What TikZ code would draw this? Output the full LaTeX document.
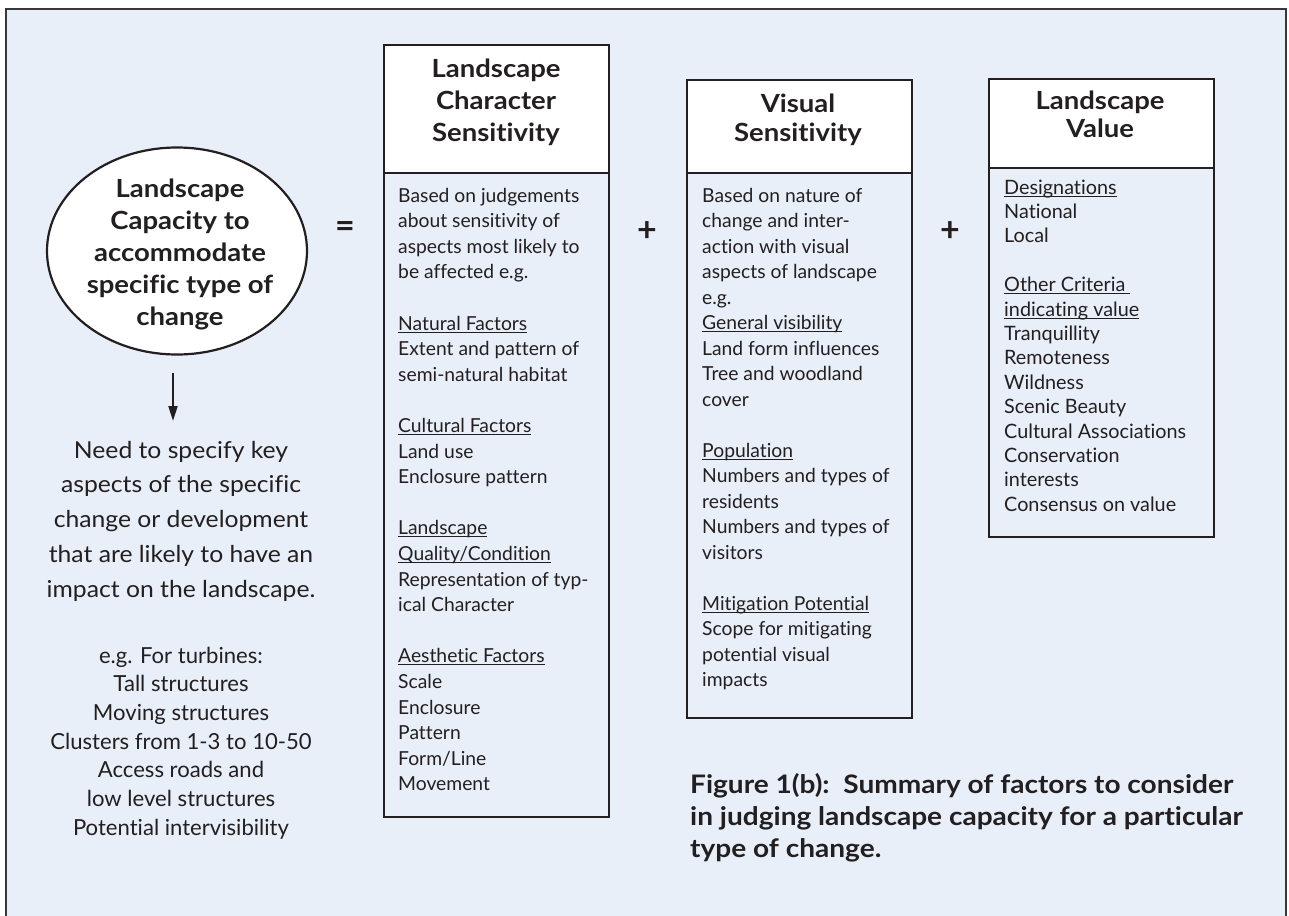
\documentclass[tikz,border=0pt]{standalone}
\usepackage{fontspec}
\setmainfont{Lato}[Ligatures=NoCommon]
\newfontfamily\widebf{Lato}[Ligatures=NoCommon, FakeStretch=1.1]
\newfontfamily\wideR{Lato}[Ligatures=NoCommon, FakeStretch=1.06]
\usetikzlibrary{arrows.meta,shapes.geometric}
\definecolor{bg}{RGB}{232,239,249}
\definecolor{ink}{RGB}{35,31,32}
\definecolor{frame}{RGB}{55,55,60}
\newcommand{\myul}[1]{\leavevmode\setbox0\hbox{#1}\rlap{\rule[-2.6pt]{\wd0}{1.1pt}}\box0}
\newcommand{\gapA}{\\[25.6pt]}
\newcommand{\gapB}{\\[24.4pt]}
\tikzset{
  colbox/.style={draw=ink, line width=2.4pt, anchor=north west, inner sep=0pt},
  hdr/.style={colbox, fill=white},
  bodybox/.style={colbox, fill=bg},
  bodytxt/.style={anchor=base west, inner sep=0pt, text=ink, font=\fontsize{19.3}{25.6}\selectfont},
  title/.style={anchor=base, inner sep=0pt, text=ink, font=\widebf\bfseries\fontsize{25}{30}\selectfont},
  sym/.style={inner sep=0pt, text=ink, font=\bfseries\fontsize{34}{34}\selectfont},
}
\begin{document}
\begin{tikzpicture}[x=1pt,y=-1pt]
\useasboundingbox (0,0) rectangle (1289,915);
% outer frame
\fill[bg] (6,9) rectangle (1286,918);
\draw[frame, line width=2.6pt] (6,920) -- (6,9) -- (1286,9) -- (1286,920);

% ellipse
\node[draw=ink, fill=white, ellipse, line width=2.2pt, minimum width=260pt, minimum height=207pt, inner sep=0pt] (ell) at (177,251) {};
\node[title] (elltxt) at (180,197) {\parbox[t]{300pt}{\centering\baselineskip=32pt Landscape\\Capacity to\\accommodate\\specific type of\\change}};

% arrow and left text
\node[anchor=base, inner sep=0pt, text=ink, font=\wideR\fontsize{23.3}{34.75}\selectfont] (need) at (181,458) {\parbox[t]{340pt}{\centering\baselineskip=34.75pt Need to specify key\\aspects of the specific\\change or development\\that are likely to have an\\impact on the landscape.}};
\draw[ink, line width=2pt, -{Triangle[length=15pt,width=9pt]}, shorten <=17pt, shorten >=2pt] (ell.south -| 173,0) -- (173,423) coordinate (arrowtip);
\node[anchor=base, inner sep=0pt, text=ink, font=\fontsize{22.1}{28.7}\selectfont] (turb) at (181,663) {\parbox[t]{340pt}{\centering\baselineskip=28.7pt e.g. For turbines:\\Tall structures\\Moving structures\\Clusters from 1-3 to 10-50\\Access roads and\\low level structures\\Potential intervisibility}};

% symbols
\node[sym] (eq) at (345,230) {=};
\node[sym] (plus1) at (647,232) {+};
\node[sym] (plus2) at (950,232) {+};

% column 1
\node[hdr, minimum width=225pt, minimum height=128pt] (h1) at (383,44) {};
\node[bodybox, minimum width=225pt, minimum height=644pt] (b1) at (383,172) {};
\node[title] (t1) at (496,78) {\parbox[t]{220pt}{\centering\baselineskip=32pt Landscape\\Character\\Sensitivity}};
\node[bodytxt] (x1) at (398,202) {\parbox[t]{300pt}{\raggedright\baselineskip=25.6pt
Based on judgements\\about sensitivity of\\aspects most likely to\\be affected e.g.\gapA
\myul{Natural Factors}\\Extent and pattern of\\semi-natural habitat\gapA
\myul{Cultural Factors}\\Land use\\Enclosure pattern\gapA
\myul{Landscape}\\\myul{Quality/Condition}\\Representation of typ-\\ical Character\gapA
\myul{Aesthetic Factors}\\Scale\\Enclosure\\Pattern\\Form/Line\\Movement}};

% column 2
\node[hdr, minimum width=225pt, minimum height=93pt] (h2) at (686,79) {};
\node[bodybox, minimum width=225pt, minimum height=545pt] (b2) at (686,172) {};
\node[title] (t2) at (798,113) {\parbox[t]{220pt}{\centering\baselineskip=29pt Visual\\Sensitivity}};
\node[bodytxt] (x2) at (702,202) {\parbox[t]{300pt}{\raggedright\baselineskip=25.5pt
Based on nature of\\change and inter-\\action with visual\\aspects of landscape\\e.g.\\\myul{General visibility}\\Land form influences\\Tree and woodland\\cover\gapA
\myul{Population}\\Numbers and types of\\residents\\Numbers and types of\\visitors\gapA
\myul{Mitigation Potential}\\Scope for mitigating\\potential visual\\impacts}};

% column 3
\node[hdr, minimum width=225pt, minimum height=89pt] (h3) at (988,78) {};
\node[bodybox, minimum width=225pt, minimum height=369pt] (b3) at (988,167) {};
\node[title] (t3) at (1100,110) {\parbox[t]{220pt}{\centering\baselineskip=28pt Landscape\\Value}};
\node[bodytxt, font=\fontsize{19.8}{24.4}\selectfont] (x3) at (1004,194) {\parbox[t]{300pt}{\raggedright\baselineskip=24.4pt
\myul{Designations}\\National\\Local\gapB
\myul{Other Criteria\ }\\\myul{indicating value}\\Tranquillity\\Remoteness\\Wildness\\Scenic Beauty\\Cultural Associations\\Conservation\\interests\\Consensus on value}};

% caption
\node[anchor=base west, inner sep=0pt, text=ink, font=\widebf\bfseries\fontsize{25.5}{32}\selectfont] (cap) at (690,793) {\parbox[t]{600pt}{\raggedright\baselineskip=32pt Figure 1(b):\ \ Summary of factors to consider\\in judging landscape capacity for a particular\\type of change.}};
\end{tikzpicture}
\end{document}
